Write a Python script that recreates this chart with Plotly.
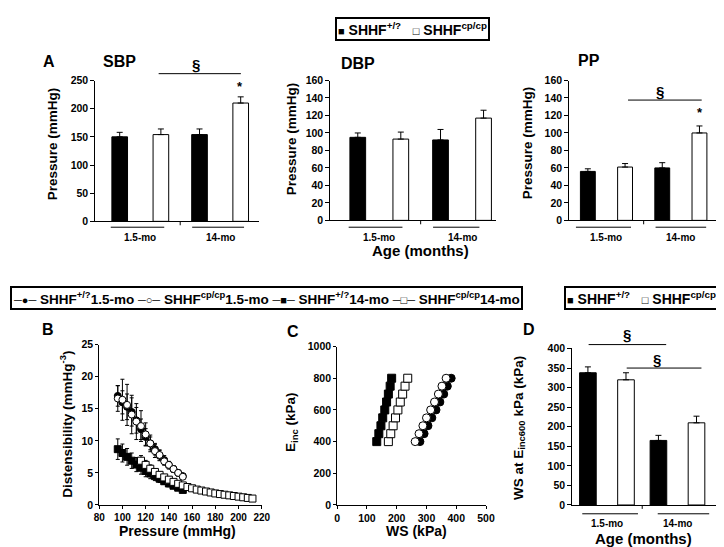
import plotly.graph_objects as go

W, H = 724, 547
def fx(p): return p / W
def fy(p): return 1 - p / H

FONT = "Arial, Liberation Sans, sans-serif"

# ---------------- data ----------------
ages = ["1.5-mo", "14-mo"]
name_wt = "SHHF<sup>+/?</sup>"
name_cp = "SHHF<sup>cp/cp</sup>"

sbp_wt = [150, 154]; sbp_wt_err = [8, 10]
sbp_cp = [154, 210]; sbp_cp_err = [10, 11]
dbp_wt = [95, 92];   dbp_wt_err = [5, 12]
dbp_cp = [93, 117];  dbp_cp_err = [8, 9]
pp_wt = [56, 60];    pp_wt_err = [3, 6]
pp_cp = [61, 100];   pp_cp_err = [4, 8]
ws600_wt = [338, 165]; ws600_wt_err = [15, 13]
ws600_cp = [320, 210]; ws600_cp_err = [18, 17]

# Panel B: distensibility vs pressure
p_short = [96, 100, 104, 108, 112, 116, 120, 124, 128, 132, 136, 140, 144, 148, 152]
p_long = [116, 120, 124, 128, 132, 136, 140, 144, 148, 152, 156, 160, 164, 168, 172,
          176, 180, 184, 188, 192, 196, 200, 204, 208, 212]
dist_wt15 = [17.0, 16.0, 15.3, 14.5, 13.2, 11.8, 10.6, 9.6, 8.7, 7.7, 7.0, 6.2, 5.6, 5.0, 4.5]
dist_wt15_err = [1.6, 1.8, 2.0, 2.2, 2.0, 1.6, 1.3, 1.0, 0.9, 0.8, 0.7, 0.6, 0.5, 0.5, 0.4]
dist_cp15 = [16.6, 16.4, 15.6, 14.1, 13.0, 12.3, 11.0, 9.6, 8.4, 7.8, 6.8, 6.25, 5.6, 5.0, 4.4]
dist_cp15_err = [2.0, 3.2, 3.2, 3.0, 2.8, 2.4, 1.8, 1.3, 1.0, 0.8, 0.6, 0.5, 0.5, 0.4, 0.4]
dist_wt14 = [8.7, 8.1, 7.5, 6.9, 6.3, 5.8, 5.3, 4.9, 4.5, 4.1, 3.7, 3.35, 3.0, 2.7, 2.35]
dist_wt14_err = [1.6, 1.4, 1.3, 1.2, 1.1, 1.0, 0.9, 0.8, 0.7, 0.6, 0.5, 0.5, 0.4, 0.4, 0.3]
dist_cp14 = [6.9, 6.25, 5.65, 5.15, 4.7, 4.3, 3.95, 3.6, 3.3, 3.05, 2.8, 2.6, 2.4, 2.25, 2.1,
             1.95, 1.8, 1.7, 1.6, 1.5, 1.4, 1.3, 1.2, 1.1, 1.0]
dist_cp14_err = [0.8, 0.7, 0.6, 0.5, 0.5, 0.4, 0.4, 0.3, 0.3, 0.3, 0.3, 0.2, 0.2, 0.2, 0.2,
                 0.2, 0.2, 0.2, 0.2, 0.1, 0.1, 0.1, 0.1, 0.1, 0.1]

# Panel C: Einc vs wall stress
einc = [400, 450, 500, 550, 600, 650, 700, 750, 800]
ws_wt15 = [278, 292, 305, 318, 332, 345, 358, 370, 383]
ws_cp15 = [262, 275, 288, 300, 314, 327, 340, 352, 366]
ws_wt14 = [133, 140, 147, 153, 160, 166, 172, 178, 183]
ws_cp14 = [172, 180, 188, 196, 204, 212, 220, 228, 237]
ws_err = [8, 8, 8, 8, 8, 8, 8, 8, 8]

fig = go.Figure()
annotations = []
shapes = []

def bar_err(err):
    return dict(type="data", array=err, arrayminus=[0] * len(err), symmetric=False,
                color="black", thickness=1, width=3)

def add_bar_panel(n, dom_x, dom_y, rng, yr, dt, wt, wterr, cp, cperr, offs, width, under):
    xa = "x" if n == 1 else f"x{n}"
    ya = "y" if n == 1 else f"y{n}"
    fig.add_trace(go.Bar(x=ages, y=wt, name=name_wt, xaxis=xa, yaxis=ya,
                         offset=offs[0], width=width,
                         marker=dict(color="black", line=dict(color="black", width=1)),
                         error_y=bar_err(wterr), showlegend=False))
    fig.add_trace(go.Bar(x=ages, y=cp, name=name_cp, xaxis=xa, yaxis=ya,
                         offset=offs[1], width=width,
                         marker=dict(color="white", line=dict(color="black", width=1)),
                         error_y=bar_err(cperr), showlegend=False))
    xk = "xaxis" if n == 1 else f"xaxis{n}"
    yk = "yaxis" if n == 1 else f"yaxis{n}"
    fig.update_layout(**{
        xk: dict(domain=[fx(dom_x[0]), fx(dom_x[1])], anchor=ya, type="category",
                 range=list(rng), showline=True, linecolor="black", linewidth=1,
                 ticks="", showticklabels=False, showgrid=False, zeroline=False,
                 fixedrange=True),
        yk: dict(domain=[fy(dom_y[1]), fy(dom_y[0])], anchor=xa, range=list(yr),
                 dtick=dt, ticks="outside", ticklen=4, tickcolor="black",
                 showline=True, linecolor="black", linewidth=1, showgrid=False,
                 zeroline=False, tickfont=dict(size=10.5), fixedrange=True),
    })
    # middle tick on x axis
    shapes.append(dict(type="line", xref=xa, yref="paper", x0=0.5, x1=0.5,
                       y0=fy(dom_y[1]), y1=fy(dom_y[1] + 4),
                       line=dict(color="black", width=1)))
    # category underline + labels
    uy, ly = under
    for i, a in enumerate(ages):
        shapes.append(dict(type="line", xref=xa, yref="paper",
                           x0=i + offs[2][i][0], x1=i + offs[2][i][1],
                           y0=fy(uy), y1=fy(uy), line=dict(color="black", width=1)))
        annotations.append(dict(text=a, xref=xa, yref="paper", x=i, y=fy(ly),
                                yanchor="middle", xanchor="center",
                                showarrow=False, font=dict(size=10)))

# A: SBP
add_bar_panel(1, (83, 250), (68, 212), (-0.564, 1.485), (0, 250), 50,
              sbp_wt, sbp_wt_err, sbp_cp, sbp_cp_err,
              (-0.356, 0.16, [(-0.37, 0.30), (-0.35, 0.30)]), 0.196, under=(218, 229))
# DBP
add_bar_panel(2, (323, 492), (68, 211), (-0.592, 1.408), (0, 160), 20,
              dbp_wt, dbp_wt_err, dbp_cp, dbp_cp_err,
              (-0.355, 0.165, [(-0.37, 0.28), (-0.35, 0.21)]), 0.19, under=(218, 229))
# PP
add_bar_panel(3, (567, 722), (68, 211), (-0.5, 1.54), (0, 160), 20,
              pp_wt, pp_wt_err, pp_cp, pp_cp_err,
              (-0.35, 0.15, [(-0.41, 0.33), (-0.34, 0.34)]), 0.2, under=(218, 229))
# D
add_bar_panel(6, (570, 722), (342, 502), (-0.493, 1.618), (0, 400), 50,
              ws600_wt, ws600_wt_err, ws600_cp, ws600_cp_err,
              (-0.388, 0.152, [(-0.35, 0.44), (-0.28, 0.45)]), 0.236, under=(511, 521))

# ---------------- B and C ----------------
def sc(x, y, err, sym, fill, name, xa, ya, horiz=False, size=7):
    e = dict(type="data", array=err, color="black" if not horiz else "#8a8a8a",
             thickness=1, width=2)
    kw = dict(error_x=e) if horiz else dict(error_y=e)
    fig.add_trace(go.Scatter(x=x, y=y, mode="lines+markers", name=name, xaxis=xa, yaxis=ya,
                             line=dict(color="black", width=1),
                             marker=dict(symbol=sym, size=size, color=fill,
                                         line=dict(color="black", width=1)),
                             showlegend=False, **kw))

sc(p_short, dist_wt15, dist_wt15_err, "circle", "black", name_wt + "1.5-mo", "x4", "y4")
sc(p_short, dist_cp15, dist_cp15_err, "circle", "white", name_cp + "1.5-mo", "x4", "y4")
sc(p_short, dist_wt14, dist_wt14_err, "square", "black", name_wt + "14-mo", "x4", "y4")
sc(p_long, dist_cp14, dist_cp14_err, "square", "white", name_cp + "14-mo", "x4", "y4")

sc(ws_wt15, einc, ws_err, "circle", "black", name_wt + "1.5-mo", "x5", "y5", horiz=True, size=8)
sc(ws_cp15, einc, ws_err, "circle", "white", name_cp + "1.5-mo", "x5", "y5", horiz=True, size=8)
sc(ws_wt14, einc, ws_err, "square", "black", name_wt + "14-mo", "x5", "y5", horiz=True, size=8)
sc(ws_cp14, einc, ws_err, "square", "white", name_cp + "14-mo", "x5", "y5", horiz=True, size=8)

def axstyle(fs):
    return dict(ticks="outside", ticklen=3, tickcolor="black", showline=True,
                linecolor="black", linewidth=1, showgrid=False, zeroline=False,
                tickfont=dict(size=fs), fixedrange=True)
fig.update_layout(
    xaxis4=dict(domain=[fx(87), fx(253)], anchor="y4", range=[80, 220], dtick=20, **axstyle(10)),
    yaxis4=dict(domain=[fy(502), fy(338)], anchor="x4", range=[0, 25], dtick=5, **axstyle(10.5)),
    xaxis5=dict(domain=[fx(330), fx(482)], anchor="y5", range=[0, 500], dtick=100, **axstyle(10.5)),
    yaxis5=dict(domain=[fy(502), fy(340)], anchor="x5", range=[0, 1000], dtick=200, **axstyle(10.5)),
)

# ---------------- text ----------------
def txt(t, x, y, size, xanchor="center", angle=0, **extra):
    d = dict(text=t, xref="paper", yref="paper", x=fx(x), y=fy(y),
             xanchor=xanchor, yanchor="middle", showarrow=False,
             textangle=angle, font=dict(size=size))
    d.update(extra)
    annotations.append(d)

txt("A", 36, 49, 16); txt("SBP", 89, 49, 16, "left")
txt("DBP", 332, 51, 16, "left"); txt("PP", 574, 48, 16, "left")
txt("B", 35, 323, 16); txt("C", 285, 325, 16); txt("D", 526, 323, 16)

txt("Pressure (mmHg)", 39, 133, 13.5, angle=-90)
txt("Pressure (mmHg)", 283, 128, 13.5, angle=-90)
txt("Pressure (mmHg)", 524, 132, 13.5, angle=-90)
txt("Age (months)", 415, 242, 15)
txt("Distensibility (mmHg<sup>-3</sup>)", 53, 419, 13.5, angle=-90)
txt("Pressure (mmHg)", 167, 529, 14)
txt("E<sub>inc</sub> (kPa)", 284, 418, 13.5, angle=-90)
txt("WS (kPa)", 411, 529, 14)
txt("WS at E<sub>inc600</sub> kPa (kPa)", 516, 423, 13.5, angle=-90)
txt("Age (months)", 643, 536, 15)

# significance marks
def sig(xa, x0, x1, ypx, sx, sy):
    shapes.append(dict(type="line", xref=xa, yref="paper", x0=x0, x1=x1,
                       y0=fy(ypx), y1=fy(ypx), line=dict(color="black", width=1)))
    txt("§", sx, sy, 15)

sig("x", 0.23, 1.26, 61, 186, 52)
sig("x3", 0.29, 1.28, 88, 660, 79)
sig("x6", -0.26, 0.84, 338, 626, 328)
sig("x6", 0.28, 1.34, 362, 657, 353)
txt("*", 231, 74, 13)
txt("*", 701, 101, 13)

# ---------------- legends (boxed text keys) ----------------
SQ_F = '<span style="font-size:11px">■</span>'
SQ_O = '<span style="font-size:11px">□</span>'
def key(sym):
    return '<span style="font-size:11px">─' + sym + '─</span>'
bar_key = (SQ_F + "&nbsp;" + name_wt + "&nbsp;&nbsp;&nbsp;" + SQ_O + "&nbsp;" + name_cp)
line_key = ("&nbsp;".join([key("●"), name_wt + "1.5-mo", key("○"), name_cp + "1.5-mo",
                           key("■"), name_wt + "14-mo", key("□"), name_cp + "14-mo"]))
legbox = dict(bordercolor="black", borderwidth=2, borderpad=1, bgcolor="white")
txt(bar_key, 407, 15, 14, **legbox)
txt(line_key, 258, 290, 13.5, **legbox)
txt(bar_key, 641, 290, 14, **legbox)

fig.update_layout(
    width=W, height=H, margin=dict(l=0, r=0, t=0, b=0),
    paper_bgcolor="white", plot_bgcolor="white",
    font=dict(family=FONT, size=12, color="black", weight="bold"),
    barmode="overlay", showlegend=False,
    annotations=annotations, shapes=shapes,
)

fig.write_html("out.html")
